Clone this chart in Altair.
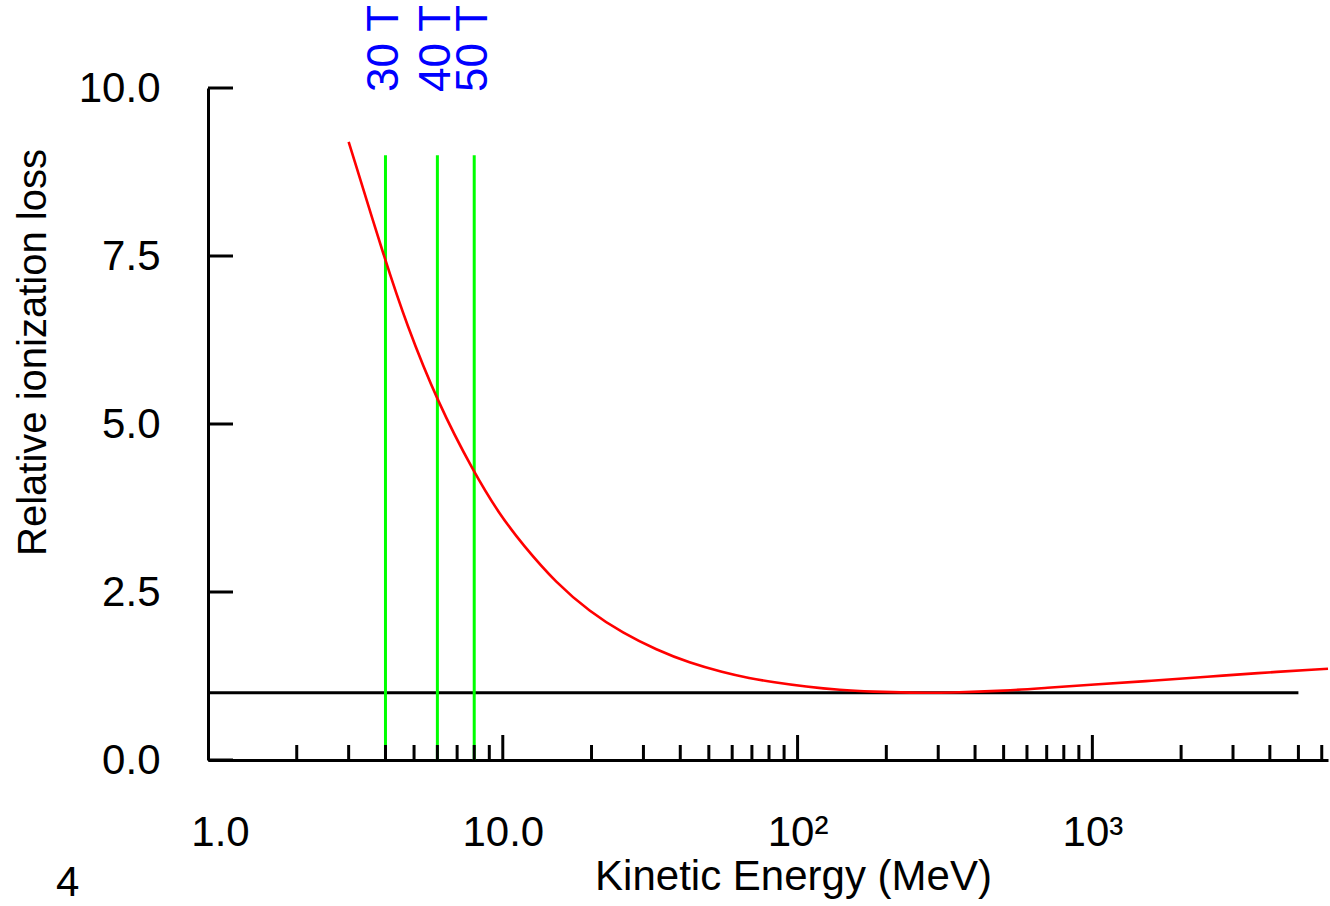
import altair as alt
import pandas as pd

# Red curve: relative ionization loss vs kinetic energy
energy = [3.0, 4.0, 4.7, 6.0, 8.0, 9.7, 11.7, 15.2, 19.7, 25.6, 33.2, 43.0, 55.8,
          68.8, 82.4, 107.0, 139.0, 180.0, 240.0, 330.0, 510.0, 700.0, 1000.0,
          1590.0, 2500.0, 3500.0, 6300.0]
loss = [9.20, 7.42, 6.50, 5.33, 4.27, 3.67, 3.20, 2.63, 2.21, 1.885, 1.64, 1.445, 1.305,
        1.215, 1.16, 1.09, 1.04, 1.016, 1.0, 1.0, 1.03, 1.075, 1.12,
        1.18, 1.24, 1.29, 1.357]

# Reference line at 1.0
ref_x = [1.0, 5000.0]
ref_y = [1.0, 1.0]

# Green field markers
field_energy = [4.0, 6.0, 8.0]
field_top = [9.0, 9.0, 9.0]
field_labels = ["30 T", "40 T", "50 T"]

# Axis ticks
x_minor = [2, 3, 4, 5, 6, 7, 8, 9, 20, 30, 40, 50, 60, 70, 80, 90,
           200, 300, 400, 500, 600, 700, 800, 900, 2000, 3000, 4000, 5000, 6000]
x_major = [10, 100, 1000]
x_label_values = [1, 10, 100, 1000]
y_ticks = [0.0, 2.5, 5.0, 7.5, 10.0]

FONT = "Liberation Sans"
FS = 42
W, H = 1120, 672

xscale = alt.Scale(type="log", domain=[1, 6300], nice=False)
yscale = alt.Scale(domain=[0, 10], nice=False)

curve_df = pd.DataFrame({"E": energy, "L": loss})
ref_df = pd.DataFrame({"E": ref_x, "L": ref_y})
field_df = pd.DataFrame({"E": field_energy, "top": field_top, "label": field_labels})
minor_df = pd.DataFrame({"E": x_minor})
major_df = pd.DataFrame({"E": x_major})
yt_df = pd.DataFrame({"v": y_ticks})

x_axis = alt.Axis(
    values=x_label_values,
    labelExpr="datum.value == 1 ? '1.0' : datum.value == 10 ? '10.0' : datum.value == 100 ? '10²' : '10³'",
    ticks=False, tickSize=0, grid=False,
    labelPadding=52, labelFont=FONT, labelFontSize=FS, labelColor="black",
    labelFlush=False,
    labelOffset=alt.condition("datum.value == 1", alt.value(12), alt.value(0)),
    domainColor="black", domainWidth=3,
    title="Kinetic Energy (MeV)", titleFont=FONT, titleFontSize=FS,
    titleFontWeight="normal", titleColor="black",
    titleX=585, titleY=129, titleAlign="center", titleBaseline="alphabetic",
)
y_axis = alt.Axis(
    values=y_ticks, format=".1f",
    ticks=False, tickSize=0, grid=False,
    labelPadding=48, labelFont=FONT, labelFontSize=FS, labelColor="black",
    labelFlush=False,
    domainColor="black", domainWidth=3,
    title="Relative ionization loss", titleFont=FONT, titleFontSize=40,
    titleFontWeight="normal", titleColor="black",
    titleX=-163, titleY=264, titleAngle=270, titleAlign="center",
    titleBaseline="alphabetic",
)

curve = alt.Chart(curve_df).mark_line(color="#ff0000", strokeWidth=2.6, interpolate="basis").encode(
    x=alt.X("E:Q", scale=xscale, axis=x_axis),
    y=alt.Y("L:Q", scale=yscale, axis=y_axis),
)

ref = alt.Chart(ref_df).mark_line(color="black", strokeWidth=3).encode(
    x=alt.X("E:Q", scale=xscale),
    y=alt.Y("L:Q", scale=yscale),
)

fields = alt.Chart(field_df).mark_rule(color="#00ff00", strokeWidth=3).encode(
    x=alt.X("E:Q", scale=xscale),
    y=alt.Y("top:Q", scale=yscale),
    y2=alt.value(H),
)

field_text = alt.Chart(field_df).mark_text(
    color="#0000ff", font=FONT, fontSize=44, angle=270, align="left", baseline="middle"
).encode(
    x=alt.X("E:Q", scale=xscale),
    y=alt.value(4),
    text="label:N",
)

minor_ticks = alt.Chart(minor_df).mark_rule(color="black", strokeWidth=3).encode(
    x=alt.X("E:Q", scale=xscale),
    y=alt.value(H),
    y2=alt.value(H - 15),
)

major_ticks = alt.Chart(major_df).mark_rule(color="black", strokeWidth=3).encode(
    x=alt.X("E:Q", scale=xscale),
    y=alt.value(H),
    y2=alt.value(H - 25),
)

y_tick_marks = alt.Chart(yt_df).mark_rule(color="black", strokeWidth=3).encode(
    y=alt.Y("v:Q", scale=yscale),
    x=alt.value(0),
    x2=alt.value(25),
)

page_num = alt.Chart(pd.DataFrame({"t": ["4"]})).mark_text(
    font=FONT, fontSize=FS, color="black", align="left", baseline="alphabetic"
).encode(
    x=alt.value(-152),
    y=alt.value(136 + H),
    text="t:N",
)

chart = alt.layer(
    ref, fields, curve, field_text, minor_ticks, major_ticks, y_tick_marks, page_num
).properties(
    width=W, height=H,
    background="white",
    autosize=alt.AutoSizeParams(type="none"),
    padding={"left": 208, "top": 88, "right": 2, "bottom": 146},
).configure_view(stroke=None)

chart.save("out.html", embed_options={"renderer": "svg", "actions": False})
